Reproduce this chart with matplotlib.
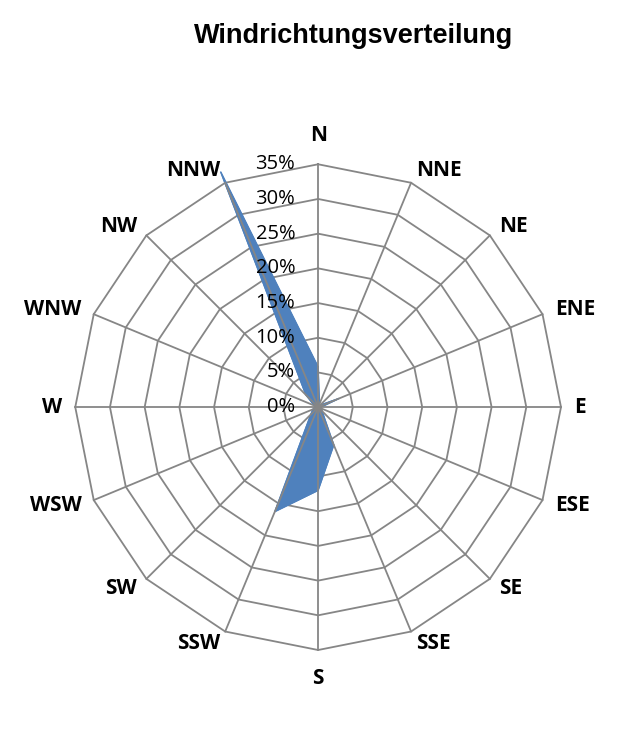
import numpy as np
import matplotlib
matplotlib.use("Agg")
import matplotlib.pyplot as plt

# Richtungen (im Uhrzeigersinn ab Nord) und Anteile in %
richtungen = ["N", "NNE", "NE", "ENE", "E", "ESE", "SE", "SSE",
              "S", "SSW", "SW", "WSW", "W", "WNW", "NW", "NNW"]
anteile = [5.8, 0.5, 0.4, 3.3, 0.4, 0.5, 0.8, 5.9,
           12.0, 16.3, 1.5, 0.8, 0.5, 0.6, 2.5, 36.7]
ringe = [0, 5, 10, 15, 20, 25, 30, 35]

grau = "#868686"
blau = "#4F81BD"

fig = plt.figure(figsize=(6.25, 7.45), dpi=100)
ax = fig.add_axes([0.12, 0.1275, 0.778, 0.652], projection="polar")
ax.set_theta_zero_location("N")
ax.set_theta_direction(-1)
ax.set_ylim(0, 35)
ax.axis("off")

n = len(richtungen)
winkel = np.arange(n) * 2 * np.pi / n
wz = np.append(winkel, winkel[0])

# polygonale Ringe
for r in ringe[1:]:
    ax.plot(wz, [r] * (n + 1), color=grau, lw=1.3, zorder=1, clip_on=False)

# Daten
werte = np.append(anteile, anteile[0])
ax.fill(wz, werte, color=blau, zorder=2, clip_on=False)
ax.plot(wz, werte, color=blau, lw=0.8, zorder=2, clip_on=False)

# Speichen
for w in winkel:
    ax.plot([w, w], [0, 35], color=grau, lw=1.3, zorder=3, clip_on=False)

# Beschriftung der Richtungen
for w, name in zip(winkel, richtungen):
    s = np.sin(w)
    if abs(s) < 0.1:
        r, ha = 39.1, "center"
    else:
        r, ha = 36.9, ("left" if s > 0 else "right")
    ax.text(w, r, name, ha=ha, va="center", fontsize=15,
            fontweight="bold", family="Open Sans")

# Prozentwerte
for r in ringe:
    ax.annotate(f"{r}%", xy=(0, r), xytext=(-16.5, 0), textcoords="offset points",
                ha="right", va="center", fontsize=14.5, family="Open Sans",
                zorder=4)

fig.text(0.566, 0.9423, "Windrichtungsverteilung", ha="center", va="baseline",
         fontsize=19.5, fontweight="bold", family="Liberation Sans")

fig.savefig("out.png", dpi=100)
